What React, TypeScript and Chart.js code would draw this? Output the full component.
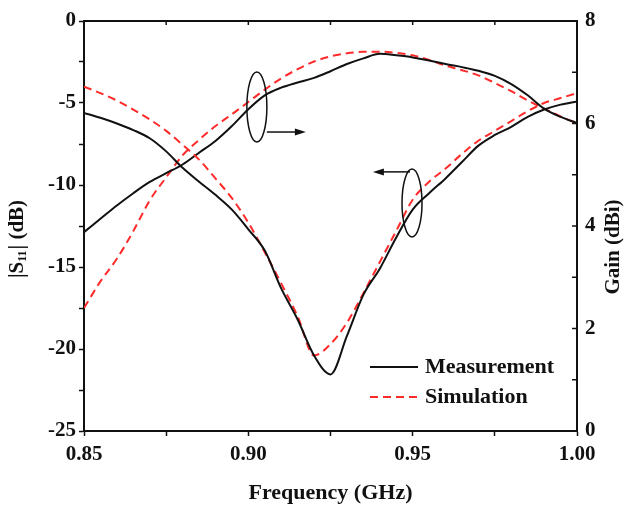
import React, { useEffect, useRef } from "react";
import { Chart, registerables } from "chart.js";

Chart.register(...registerables);

const freq = [
  0.85, 0.855, 0.86, 0.865, 0.87, 0.875, 0.88, 0.885, 0.89, 0.895, 0.9, 0.905, 0.91, 0.915, 0.92, 0.925,
  0.93, 0.935, 0.94, 0.945, 0.95, 0.955, 0.96, 0.965, 0.97, 0.975, 0.98, 0.985, 0.99, 0.995, 1.0,
];
const s11Measured = [
  -5.6, -5.9, -6.25, -6.65, -7.15, -7.95, -8.95, -9.8, -10.6, -11.5, -12.7, -14.0, -16.3, -18.2, -20.4, -21.55,
  -19.2, -16.7, -15.1, -13.2, -11.5, -10.5, -9.6, -8.6, -7.6, -6.95, -6.45, -5.85, -5.4, -5.1, -4.9,
];
const s11Simulated = [
  -4.0, -4.4, -4.85, -5.4, -6.0, -6.7, -7.55, -8.45, -9.6, -10.8, -12.3, -14.1, -16.0, -18.0, -20.4, -19.7,
  -18.4, -16.6, -14.7, -12.8, -10.9, -9.8, -9.0, -8.1, -7.3, -6.7, -6.1, -5.5, -5.0, -4.7, -4.4,
];
const gainMeasured = [
  3.88, 4.14, 4.4, 4.64, 4.86, 5.03, 5.2, 5.43, 5.66, 5.95, 6.28, 6.55, 6.7, 6.8, 6.89, 7.02,
  7.16, 7.27, 7.36, 7.33, 7.29, 7.23, 7.16, 7.1, 7.03, 6.93, 6.77, 6.55, 6.29, 6.13, 6.01,
];
const gainSimulated = [
  2.4, 2.92, 3.36, 3.9, 4.5, 4.95, 5.38, 5.68, 5.95, 6.18, 6.42, 6.66, 6.88, 7.06, 7.21, 7.31,
  7.37, 7.4, 7.4, 7.38, 7.33, 7.24, 7.13, 7.04, 6.94, 6.79, 6.63, 6.45, 6.29, 6.14, 6.0,
];
const legendLabels = ["Measurement", "Simulation"];
// annotation ellipses (data units on x / left y axis) and arrows
const ellipseCenters = [
  { x: 0.9026, y: -5.24, arrowY: -6.77, arrowTo: 0.9175 },
  { x: 0.9498, y: -11.1, arrowY: -9.2, arrowTo: 0.9379 },
];

const FONT = "'Liberation Serif', 'Times New Roman', serif";
const RED = "#ff2a2a";
const BLACK = "#111111";

const toXY = (vals: number[]) => vals.map((v, i) => ({ x: freq[i], y: v }));

const overlay = {
  id: "overlay",
  afterDraw(chart: any) {
    const ctx = chart.ctx as CanvasRenderingContext2D;
    const a = chart.chartArea;
    const xs = chart.scales.x;
    const ys = chart.scales.y;
    const y2 = chart.scales.y2;
    ctx.save();
    ctx.strokeStyle = BLACK;
    ctx.fillStyle = BLACK;
    // top frame line
    ctx.lineWidth = 2;
    ctx.beginPath();
    ctx.moveTo(a.left - 1, a.top);
    ctx.lineTo(a.right + 1, a.top);
    ctx.stroke();
    // top inward ticks
    ctx.lineWidth = 1.5;
    for (let f = 0.875; f < 1.0; f += 0.025) {
      const px = xs.getPixelForValue(f);
      ctx.beginPath();
      ctx.moveTo(px, a.top);
      ctx.lineTo(px, a.top + 4);
      ctx.stroke();
    }
    // right inward ticks
    for (let g = 1; g < 8; g += 1) {
      const py = y2.getPixelForValue(g);
      ctx.beginPath();
      ctx.moveTo(a.right, py);
      ctx.lineTo(a.right - 5, py);
      ctx.stroke();
    }
    // ellipses + arrows
    ctx.lineWidth = 1.5;
    const radii = [
      [10, 35],
      [10, 34],
    ];
    ellipseCenters.forEach((e, i) => {
      const cx = xs.getPixelForValue(e.x);
      const cy = ys.getPixelForValue(e.y);
      ctx.beginPath();
      ctx.ellipse(cx, cy, radii[i][0], radii[i][1], 0, 0, Math.PI * 2);
      ctx.stroke();
      const ay = ys.getPixelForValue(e.arrowY);
      const ax1 = xs.getPixelForValue(e.arrowTo);
      const ax0 = i === 0 ? cx + radii[i][0] : cx - 2;
      const dir = ax1 > ax0 ? 1 : -1;
      ctx.beginPath();
      ctx.moveTo(ax0, ay);
      ctx.lineTo(ax1 - dir * 9, ay);
      ctx.stroke();
      ctx.beginPath();
      ctx.moveTo(ax1, ay);
      ctx.lineTo(ax1 - dir * 11, ay - 3.5);
      ctx.lineTo(ax1 - dir * 11, ay + 3.5);
      ctx.closePath();
      ctx.fill();
    });
    // legend
    const lx0 = 370;
    const lx1 = 418;
    const ly = [367, 397];
    ctx.lineWidth = 2;
    ctx.strokeStyle = BLACK;
    ctx.beginPath();
    ctx.moveTo(lx0, ly[0]);
    ctx.lineTo(lx1, ly[0]);
    ctx.stroke();
    ctx.strokeStyle = RED;
    ctx.setLineDash([8, 5]);
    ctx.beginPath();
    ctx.moveTo(lx0, ly[1]);
    ctx.lineTo(lx1, ly[1]);
    ctx.stroke();
    ctx.setLineDash([]);
    ctx.fillStyle = BLACK;
    ctx.font = `bold 22px ${FONT}`;
    ctx.textAlign = "left";
    ctx.textBaseline = "middle";
    ctx.fillText(legendLabels[0], 425, ly[0]);
    ctx.fillText(legendLabels[1], 425, ly[1]);
    // x title
    ctx.font = `bold 22px ${FONT}`;
    ctx.textAlign = "center";
    ctx.fillText("Frequency (GHz)", (a.left + a.right) / 2, 493);
    // left title |S11| (dB)
    ctx.save();
    ctx.translate(18, 239);
    ctx.rotate(-Math.PI / 2);
    const big = `bold 21px ${FONT}`;
    const small = `bold 12px ${FONT}`;
    ctx.font = big;
    const w1 = ctx.measureText("|S").width;
    const w3 = ctx.measureText("| (dB)").width;
    ctx.font = small;
    const w2 = ctx.measureText("11").width + 1;
    let x = -(w1 + w2 + w3) / 2;
    ctx.textAlign = "left";
    ctx.font = big;
    ctx.fillText("|S", x, 0);
    x += w1;
    ctx.font = small;
    ctx.fillText("11", x, 5);
    x += w2;
    ctx.font = big;
    ctx.fillText("| (dB)", x, 0);
    ctx.restore();
    // right title
    ctx.save();
    ctx.translate(614, 247);
    ctx.rotate(-Math.PI / 2);
    ctx.font = `bold 21px ${FONT}`;
    ctx.textAlign = "center";
    ctx.fillText("Gain (dBi)", 0, 0);
    ctx.restore();
    ctx.restore();
  },
};

export default function App() {
  const ref = useRef<HTMLCanvasElement | null>(null);
  useEffect(() => {
    if (!ref.current) return;
    const tickFont = { family: FONT, size: 21, weight: "bold" as const };
    const common = { pointRadius: 0, borderWidth: 2, cubicInterpolationMode: "monotone" as const };
    const chart = new Chart(ref.current, {
      type: "line",
      data: {
        datasets: [
          { label: "S11 Measurement", data: toXY(s11Measured), yAxisID: "y", borderColor: BLACK, ...common },
          { label: "S11 Simulation", data: toXY(s11Simulated), yAxisID: "y", borderColor: RED, borderDash: [8, 5], ...common },
          { label: "Gain Measurement", data: toXY(gainMeasured), yAxisID: "y2", borderColor: BLACK, ...common },
          { label: "Gain Simulation", data: toXY(gainSimulated), yAxisID: "y2", borderColor: RED, borderDash: [8, 5], ...common },
        ],
      },
      options: {
        animation: false,
        responsive: false,
        layout: { padding: { top: 21, left: 0, right: 0, bottom: 0 } },
        plugins: { legend: { display: false }, tooltip: { enabled: false } },
        scales: {
          x: {
            type: "linear",
            min: 0.85,
            max: 1.0,
            ticks: {
              stepSize: 0.025,
              autoSkip: false,
              maxRotation: 0,
              color: BLACK,
              font: tickFont,
              padding: 6,
              callback: (v: any) => {
                const n = Number(v);
                return Math.abs(n * 20 - Math.round(n * 20)) < 1e-6 ? n.toFixed(2) : "";
              },
            },
            grid: { drawOnChartArea: false, tickLength: 5, tickColor: BLACK, tickWidth: 1.5 },
            border: { color: BLACK, width: 2 },
            afterFit: (s: any) => {
              s.height = 83;
            },
          },
          y: {
            position: "left",
            min: -25,
            max: 0,
            ticks: {
              stepSize: 2.5,
              autoSkip: false,
              color: BLACK,
              font: tickFont,
              padding: 3,
              callback: (v: any) => {
                const n = Number(v);
                return Math.abs(n / 5 - Math.round(n / 5)) < 1e-6 ? String(n) : "";
              },
            },
            grid: { drawOnChartArea: false, tickLength: 5, tickColor: BLACK, tickWidth: 1.5 },
            border: { color: BLACK, width: 2 },
            afterFit: (s: any) => {
              s.width = 84;
            },
          },
          y2: {
            position: "right",
            min: 0,
            max: 8,
            ticks: {
              stepSize: 1,
              autoSkip: false,
              color: BLACK,
              font: tickFont,
              padding: 8,
              callback: (v: any) => {
                const n = Number(v);
                return n % 2 === 0 ? String(n) : "";
              },
            },
            grid: { display: true, drawOnChartArea: false, drawTicks: false },
            border: { color: BLACK, width: 2 },
            afterFit: (s: any) => {
              s.width = 47;
            },
          },
        },
      },
      plugins: [overlay],
    });
    return () => chart.destroy();
  }, []);
  return (
    <div style={{ position: "absolute", left: 0, top: 0, width: 624, height: 514, background: "#fff" }}>
      <canvas ref={ref} width={624} height={514} />
    </div>
  );
}
